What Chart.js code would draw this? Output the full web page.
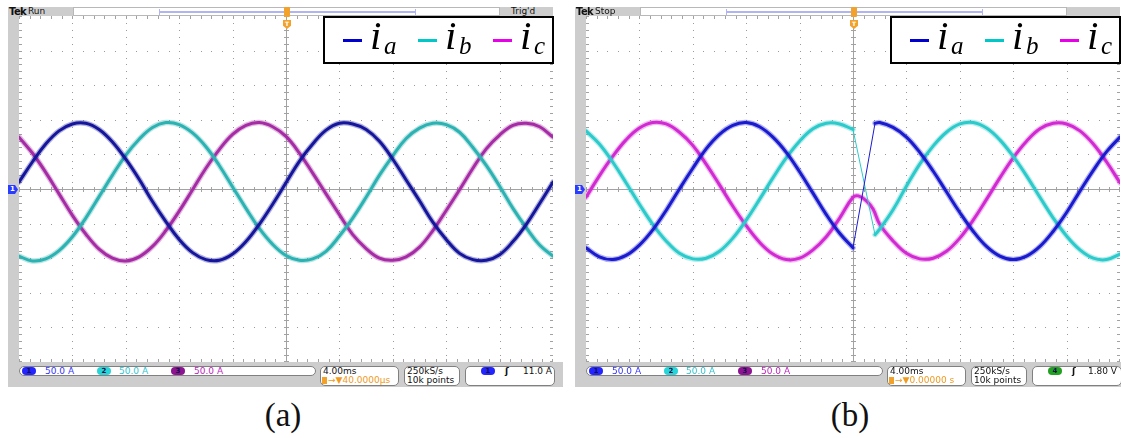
<!DOCTYPE html>
<html>
<head>
<meta charset="utf-8">
<title>Three-phase currents</title>
<script src="https://cdn.jsdelivr.net/npm/chart.js@4.4.1/dist/chart.umd.min.js"></script>
<style>
  html, body { margin: 0; padding: 0; background: #fff; }
  #page { position: relative; width: 1121px; height: 438px; overflow: hidden; background: #fff; }
  .scope { position: absolute; top: 0; width: 560px; height: 438px; }
  .scope > * { position: absolute; box-sizing: border-box; }
  .fl { left: 0; top: 7px; width: 11px; height: 380px; background: #cdcdcd; }
  .fb { left: 0; top: 362px; width: 555px; height: 25px; background: #cdcdcd; }
  .hdTek { left: 0; top: 7px; width: 65px; height: 9px; background: #cdcdcd; font: 9px/9px "DejaVu Sans", sans-serif; color: #111; white-space: nowrap; }
  .hdTek b { position: absolute; left: 1px; top: 0; font: bold 10px/9px "DejaVu Sans", sans-serif; letter-spacing: -0.6px; }
  .hdTek span { position: absolute; left: 20px; top: 0; }
  .hdWin { width: 427px; left: 65px; top: 7px; height: 9px; background: #fff; border: 1px solid #b8b8b8; }
  .rec { position: absolute; left: 85px; top: 3px; width: 257px; height: 2px; background: #b0b4f2; }
  .rec::before, .rec::after { content: ""; position: absolute; top: -2px; width: 1px; height: 6px; background: #b0b4f2; }
  .rec::before { left: 0; } .rec::after { right: 0; }
  .hdTrig { left: 492px; top: 7px; width: 53px; height: 9px; background: #cdcdcd; font: 9px/9px "DejaVu Sans", sans-serif; color: #111; padding-left: 11px; white-space: nowrap; }
  .tmk1 { left: 276px; top: 7px; width: 6px; height: 10px; background: #f2a22a; border-radius: 1px; }
  .tmk2 { left: 275px; top: 20px; width: 8px; height: 9px; background: #f2a22a; clip-path: polygon(0 0, 100% 0, 100% 65%, 50% 100%, 0 65%); color: #fff; font: bold 6px/7px "DejaVu Sans", sans-serif; text-align: center; }
  .ch { left: 0; top: 185px; width: 10px; height: 9px; background: #2a3cff; clip-path: polygon(0 0, 70% 0, 100% 50%, 70% 100%, 0 100%); color: #fff; font: bold 7px/9px "DejaVu Sans", sans-serif; padding-left: 2px; }
  canvas { left: 11px; top: 16px; }
  .legend { left: 315px; top: 16px; width: 231px; height: 48px; background: #fff; border: 2px solid #000; }
  .legend > div { position: absolute; }
  .ll { top: 21px; width: 19px; height: 3px; }
  .li { top: -3px; font: italic 41px/41px "Liberation Serif", serif; color: #000; }
  .ls { top: 15px; font: italic 25px/25px "Liberation Serif", serif; color: #000; }
  .box { background: #fff; border: 1px solid #808080; border-radius: 5px; font: 9px/9px "DejaVu Sans", sans-serif; color: #111; white-space: nowrap; }
  .box > span, .box > div { position: absolute; }
  .b1 { left: 11px; top: 366px; width: 297px; height: 10px; }
  .b2 { left: 312px; top: 366px; width: 79px; height: 20px; }
  .b3 { left: 396px; top: 366px; width: 56px; height: 20px; }
  .b4 { left: 457px; top: 366px; width: 90px; height: 20px; }
  .ov { top: 0; width: 14px; height: 8px; border-radius: 4px; font: bold 7px/8px "DejaVu Sans", sans-serif; text-align: center; color: #10104a; }
  .r1 { top: -0.5px; } .r2 { top: 8.5px; }
  .tbox { display: inline-block; width: 5px; height: 7px; background: #f2a22a; vertical-align: -1px; margin-right: 1px; }
  .cap { left: 235px; top: 399px; width: 80px; text-align: center; font: 33px/33px "Liberation Serif", serif; color: #111; }
</style>
</head>
<body>
<div id="page">

  <div class="scope" style="left:8px">
    <div class="fl"></div>
    <div class="fb"></div>
    <div class="hdTek"><b>Tek</b><span>Run</span></div>
    <div class="hdWin"><div class="rec"></div></div>
    <div class="hdTrig">Trig'd</div>
    <canvas id="plotA" width="534" height="346"></canvas>
    <div class="tmk1"></div>
    <div class="tmk2">T</div>
    <div class="ch">1</div>
    <div class="legend">
      <div class="ll" style="left:18px;background:#0000d0"></div>
      <div class="li" style="left:45px">i</div><div class="ls" style="left:59px">a</div>
      <div class="ll" style="left:93px;background:#00c8c8"></div>
      <div class="li" style="left:120px">i</div><div class="ls" style="left:134px">b</div>
      <div class="ll" style="left:168px;background:#e800e8"></div>
      <div class="li" style="left:195px">i</div><div class="ls" style="left:209px">c</div>
    </div>
    <div class="box b1">
      <div class="ov" style="left:2px;background:#2424ff">1</div><span class="r1" style="left:25px;color:#3434ff">50.0 A</span>
      <div class="ov" style="left:77px;background:#28d4d8">2</div><span class="r1" style="left:99px;color:#30c4d0">50.0 A</span>
      <div class="ov" style="left:151px;background:#8c1490">3</div><span class="r1" style="left:174px;color:#c024c0">50.0 A</span>
    </div>
    <div class="box b2">
      <span class="r1" style="left:2px">4.00ms</span>
      <span class="r2" style="left:1px;color:#f09a20"><i class="tbox"></i>→▼40.0000µs</span>
    </div>
    <div class="box b3">
      <span class="r1" style="left:2px">250kS/s</span>
      <span class="r2" style="left:2px">10k points</span>
    </div>
    <div class="box b4">
      <div class="ov" style="left:15px;background:#2424ff">1</div>
      <span class="r1" style="left:39px;font-weight:bold">ʃ</span>
      <span class="r1" style="right:2px">11.0 A</span>
    </div>
    <div class="cap">(a)</div>
  </div>

  <div class="scope" style="left:575px">
    <div class="fl"></div>
    <div class="fb"></div>
    <div class="hdTek"><b>Tek</b><span>Stop</span></div>
    <div class="hdWin"><div class="rec"></div></div>
    <div class="hdTrig"></div>
    <canvas id="plotB" width="534" height="346"></canvas>
    <div class="tmk1"></div>
    <div class="tmk2">T</div>
    <div class="ch">1</div>
    <div class="legend">
      <div class="ll" style="left:18px;background:#0000d0"></div>
      <div class="li" style="left:45px">i</div><div class="ls" style="left:59px">a</div>
      <div class="ll" style="left:93px;background:#00c8c8"></div>
      <div class="li" style="left:120px">i</div><div class="ls" style="left:134px">b</div>
      <div class="ll" style="left:168px;background:#e800e8"></div>
      <div class="li" style="left:195px">i</div><div class="ls" style="left:209px">c</div>
    </div>
    <div class="box b1">
      <div class="ov" style="left:2px;background:#2424ff">1</div><span class="r1" style="left:25px;color:#3434ff">50.0 A</span>
      <div class="ov" style="left:77px;background:#28d4d8">2</div><span class="r1" style="left:99px;color:#30c4d0">50.0 A</span>
      <div class="ov" style="left:151px;background:#8c1490">3</div><span class="r1" style="left:174px;color:#c024c0">50.0 A</span>
    </div>
    <div class="box b2">
      <span class="r1" style="left:2px">4.00ms</span>
      <span class="r2" style="left:1px;color:#f09a20"><i class="tbox"></i>→▼0.00000 s</span>
    </div>
    <div class="box b3">
      <span class="r1" style="left:2px">250kS/s</span>
      <span class="r2" style="left:2px">10k points</span>
    </div>
    <div class="box b4">
      <div class="ov" style="left:15px;background:#22a022">4</div>
      <span class="r1" style="left:39px;font-weight:bold">ʃ</span>
      <span class="r1" style="right:4px">1.80 V</span>
    </div>
    <div class="cap">(b)</div>
  </div>

</div>

<script>
// Graticule: 10 divisions across (4 ms/div), 10 divisions high (50 A/div)
const divTimes = [-20, -16, -12, -8, -4, 0, 4, 8, 12, 16, 20];               // ms
const divAmps  = [-250, -200, -150, -100, -50, 0, 50, 100, 150, 200, 250];  // A

// (a) steady state, sampled every 1 ms
const timeA = [-20, -19, -18, -17, -16, -15, -14, -13, -12, -11, -10, -9, -8, -7, -6, -5, -4, -3, -2, -1,
               0, 1, 2, 3, 4, 5, 6, 7, 8, 9, 10, 11, 12, 13, 14, 15, 16, 17, 18, 19, 20];
const iaA = [10, 39, 65, 84, 94, 95, 86, 68, 43, 14, -18, -47, -73, -92, -102, -103, -94, -76, -51, -22,
             9, 40, 65, 85, 95, 94, 86, 69, 43, 13, -17, -48, -73, -93, -102, -103, -95, -76, -51, -21, 10];
const ibA = [-97, -104, -101, -89, -69, -42, -11, 20, 49, 72, 89, 96, 93, 81, 61, 34, 3, -28, -57, -80,
             -96, -103, -101, -90, -68, -42, -12, 20, 48, 73, 88, 95, 93, 82, 60, 34, 4, -28, -56, -81, -97];
const icA = [75, 52, 24, -7, -38, -65, -87, -100, -104, -98, -83, -60, -32, -1, 30, 57, 79, 92, 96, 90,
             76, 52, 23, -7, -37, -66, -86, -100, -103, -98, -84, -60, -31, -1, 30, 58, 78, 92, 95, 90, 75];

// (b) transition at t = 0
const timeBPre = [-20, -19, -18, -17, -16, -15, -14, -13, -12, -11, -10, -9, -8, -7, -6, -5, -4, -3, -2, -1, 0];
const iaBPre = [-85, -98, -102, -96, -81, -59, -31, 0, 30, 58, 79, 92, 96, 90, 75, 53, 25, -6, -37, -64, -85];
const ibBPre = [84, 65, 39, 9, -22, -51, -75, -93, -101, -100, -90, -71, -45, -15, 16, 45, 69, 87, 95, 94, 86];

const timeBStep = [0, 1.65];
const iaBStep = [-85, 95];
const ibBStep = [86, -66];

const timeBPost = [1.65, 2, 3, 4, 5, 6, 7, 8, 9, 10, 11, 12, 13, 14, 15, 16, 17, 18, 19, 20];
const iaBPost = [95, 96, 89, 75, 53, 26, -4, -34, -61, -83, -97, -102, -97, -83, -61, -34, -3, 27, 54, 75];
const ibBPost = [-66, -58, -30, 4, 36, 62, 82, 94, 96, 88, 71, 47, 19, -12, -42, -68, -88, -100, -102, -94];

const timeBc = [-20, -19, -18, -17, -16, -15, -14, -13, -12, -11, -10, -9, -8, -7, -6, -5, -4, -3, -2, -1, 0,
                0.4, 1, 1.5, 2, 3, 4, 5, 6, 7, 8, 9, 10, 11, 12, 13, 14, 15, 16, 17, 18, 19, 20];
const icB = [-12, 19, 47, 71, 88, 96, 94, 82, 63, 36, 6, -25, -53, -77, -94, -102, -100, -88, -69, -42, -12,
             -10, -17, -29, -51, -75, -93, -101, -100, -90, -71, -45, -15, 16, 45, 69, 87, 95, 94, 84, 65, 39, 9];

const COLORS_A = { a: '#16169c', b: '#2cb2b2', c: '#a62ca6' };
const COLORS_B = { a: '#1a1ace', b: '#2ccaca', c: '#d22ad2' };

function points(times, values) {
  return times.map((t, i) => ({ x: t, y: values[i] }));
}

// A captured trace: a soft, slightly wider band under a solid core line
function trace(times, values, color, width, smooth) {
  const base = {
    data: points(times, values),
    pointRadius: 0,
    fill: false,
    tension: smooth ? 0.4 : 0,
    borderJoinStyle: 'round',
    borderCapStyle: 'round'
  };
  if (!smooth) return [{ ...base, borderColor: color, borderWidth: width }];
  return [
    { ...base, borderColor: color, borderWidth: width },
    { ...base, data: points(times, values), borderColor: color + '55', borderWidth: width + 2.5 }
  ];
}

function subdivide(list, n) {
  const out = [];
  for (let i = 0; i < list.length - 1; i++) {
    for (let k = 0; k < n; k++) out.push(list[i] + (list[i + 1] - list[i]) * k / n);
  }
  out.push(list[list.length - 1]);
  return out;
}

const graticule = {
  id: 'graticule',
  beforeDatasetsDraw(chart) {
    const { ctx, chartArea: a, scales: { x, y } } = chart;
    const minorT = subdivide(divTimes, 5);
    const minorA = subdivide(divAmps, 5);
    const px = v => Math.min(Math.round(x.getPixelForValue(v)), a.right - 1);
    const py = v => Math.min(Math.round(y.getPixelForValue(v)), a.bottom - 1);
    ctx.save();
    // dotted division lines
    ctx.fillStyle = '#9a9a9a';
    divTimes.slice(1, -1).forEach(t => {
      if (t === 0) return;
      const X = px(t);
      minorA.forEach(v => ctx.fillRect(X, py(v), 1, 1));
    });
    divAmps.slice(1, -1).forEach(v => {
      if (v === 0) return;
      const Y = py(v);
      minorT.forEach(t => ctx.fillRect(px(t), Y, 1, 1));
    });
    // centre cross with minor ticks, and edge ticks
    ctx.fillStyle = '#a2a2a2';
    const cx = px(0), cy = py(0);
    ctx.fillRect(a.left, cy, a.width, 1);
    ctx.fillRect(cx, a.top, 1, a.height);
    minorT.forEach(t => {
      const X = px(t);
      ctx.fillRect(X, cy - 2, 1, 5);
      ctx.fillRect(X, a.top, 1, 3);
      ctx.fillRect(X, a.bottom - 3, 1, 3);
    });
    minorA.forEach(v => {
      const Y = py(v);
      ctx.fillRect(cx - 2, Y, 5, 1);
      ctx.fillRect(a.left, Y, 3, 1);
      ctx.fillRect(a.right - 3, Y, 3, 1);
    });
    ctx.restore();
  }
};

function scope(id, datasets) {
  return new Chart(document.getElementById(id), {
    type: 'line',
    data: { datasets },
    options: {
      responsive: false,
      animation: false,
      events: [],
      layout: { padding: 0 },
      plugins: { legend: { display: false }, tooltip: { enabled: false } },
      scales: {
        x: { type: 'linear', min: divTimes[0], max: divTimes[divTimes.length - 1], display: false },
        y: { type: 'linear', min: divAmps[0], max: divAmps[divAmps.length - 1], display: false }
      }
    },
    plugins: [graticule]
  });
}

scope('plotA', [
  ...trace(timeA, iaA, COLORS_A.a, 3, true),
  ...trace(timeA, ibA, COLORS_A.b, 3, true),
  ...trace(timeA, icA, COLORS_A.c, 3, true)
]);

scope('plotB', [
  ...trace(timeBPre, iaBPre, COLORS_B.a, 3, true),
  ...trace(timeBStep, iaBStep, COLORS_B.a, 1, false),
  ...trace(timeBPost, iaBPost, COLORS_B.a, 3, true),
  ...trace(timeBPre, ibBPre, COLORS_B.b, 3, true),
  ...trace(timeBStep, ibBStep, COLORS_B.b, 1, false),
  ...trace(timeBPost, ibBPost, COLORS_B.b, 3, true),
  ...trace(timeBc, icB, COLORS_B.c, 3, true)
]);
</script>
</body>
</html>
